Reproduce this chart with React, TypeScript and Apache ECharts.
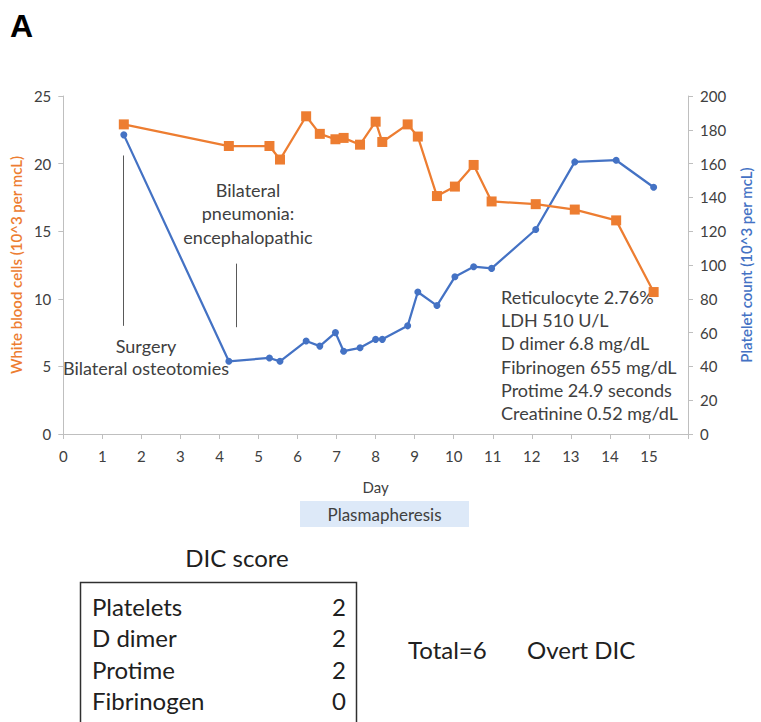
import React, { useEffect, useRef } from "react";
import * as echarts from "echarts";

const days = [1.55, 4.24, 5.28, 5.55, 6.22, 6.57, 6.97, 7.18, 7.6, 8.0, 8.17, 8.82, 9.08, 9.57, 10.03, 10.51, 10.97, 12.1, 13.1, 14.16, 15.12];
const wbc = [22.9, 21.3, 21.3, 20.3, 23.5, 22.2, 21.8, 21.9, 21.4, 23.1, 21.6, 22.9, 22.0, 17.6, 18.3, 19.9, 17.2, 17.0, 16.6, 15.8, 10.5];
const platelets = [177, 43, 45, 43, 55, 52, 60, 49, 51, 56, 56, 64, 84, 76, 93, 99, 98, 121, 161, 162, 146];

const labLines = [
  "Reticulocyte 2.76%",
  "LDH 510 U/L",
  "D dimer 6.8 mg/dL",
  "Fibrinogen 655 mg/dL",
  "Protime 24.9 seconds",
  "Creatinine 0.52 mg/dL",
];
const dicItems = ["Platelets", "D dimer", "Protime", "Fibrinogen"];
const dicScores = [2, 2, 2, 0];

const FONT = "Lato, 'Open Sans', sans-serif";
const TXT = "#404040";
const ORANGE = "#ED7D31";
const BLUE = "#4472C4";

export default function App() {
  const ref = useRef<HTMLDivElement>(null);
  useEffect(() => {
    document.body.style.margin = "0";
    const chart = echarts.init(ref.current!, null, { renderer: "svg" });
    const rowY = [606, 637.5, 669, 700];
    const graphic: any[] = [
      { type: "text", left: 10, top: 10, style: { text: "A", font: "bold 32px 'Liberation Sans', Arial, sans-serif", fill: "#000" } },
      { type: "text", x: 248, y: 213, style: { text: "Bilateral\npneumonia:\nencephalopathic", font: `18px ${FONT}`, fill: TXT, align: "center", verticalAlign: "middle", lineHeight: 23.5 } },
      { type: "text", x: 146, y: 357, style: { text: "Surgery\nBilateral osteotomies", font: `18px ${FONT}`, fill: TXT, align: "center", verticalAlign: "middle", lineHeight: 22 } },
      { type: "text", x: 501, y: 355, style: { text: labLines.join("\n"), font: `18px ${FONT}`, fill: TXT, align: "left", verticalAlign: "middle", lineHeight: 23.2 } },
      { type: "rect", shape: { x: 300, y: 501, width: 169, height: 26 }, style: { fill: "#DDE9F8" } },
      { type: "text", x: 384.5, y: 514, style: { text: "Plasmapheresis", font: `17px ${FONT}`, fill: TXT, align: "center", verticalAlign: "middle" } },
      { type: "text", x: 237, y: 557, style: { text: "DIC score", font: `24px ${FONT}`, fill: "#202020", align: "center", verticalAlign: "middle" } },
      { type: "rect", shape: { x: 80.5, y: 582.5, width: 276, height: 160 }, style: { fill: "none", stroke: "#303030", lineWidth: 1.5 } },
      { type: "text", x: 408, y: 649, style: { text: "Total=6", font: `24px ${FONT}`, fill: "#202020", align: "left", verticalAlign: "middle" } },
      { type: "text", x: 527, y: 649, style: { text: "Overt DIC", font: `24px ${FONT}`, fill: "#202020", align: "left", verticalAlign: "middle" } },
    ];
    dicItems.forEach((name, i) => {
      graphic.push({ type: "text", x: 92, y: rowY[i], style: { text: name, font: `24px ${FONT}`, fill: "#202020", align: "left", verticalAlign: "middle" } });
      graphic.push({ type: "text", x: 346, y: rowY[i], style: { text: String(dicScores[i]), font: `24px ${FONT}`, fill: "#202020", align: "right", verticalAlign: "middle" } });
    });

    const axisCommon = {
      axisLine: { show: true, lineStyle: { color: "#BFBFBF", width: 1 } },
      axisTick: { show: true, inside: false, length: 5, lineStyle: { color: "#BFBFBF" } },
      splitLine: { show: false },
    };

    chart.setOption({
      animation: false,
      backgroundColor: "#fff",
      grid: { left: 62, right: 64, top: 96, bottom: 288 },
      xAxis: {
        type: "value", min: 0, max: 16, interval: 1,
        name: "Day", nameLocation: "middle", nameGap: 45,
        nameTextStyle: { fontFamily: FONT, fontSize: 15, color: TXT },
        ...axisCommon,
        axisLabel: { fontFamily: FONT, fontSize: 15, color: "#404040", margin: 14, formatter: (v: number) => (v === 16 ? "" : String(v)) },
      },
      yAxis: [
        {
          type: "value", min: 0, max: 25, interval: 5, position: "left",
          name: "White blood cells (10^3 per mcL)", nameLocation: "middle", nameGap: 38, nameRotate: 90,
          nameTextStyle: { fontFamily: FONT, fontSize: 15, color: ORANGE, fontWeight: 600 },
          ...axisCommon,
          axisLabel: { fontFamily: FONT, fontSize: 15, color: "#404040", margin: 12 },
        },
        {
          type: "value", min: 0, max: 200, interval: 20, position: "right",
          name: "Platelet count (10^3 per mcL)", nameLocation: "middle", nameGap: 50, nameRotate: 90,
          nameTextStyle: { fontFamily: FONT, fontSize: 15, color: BLUE, fontWeight: 600 },
          ...axisCommon,
          axisLabel: { fontFamily: FONT, fontSize: 15, color: "#404040", margin: 12 },
        },
      ],
      series: [
        {
          type: "line", yAxisIndex: 0, name: "WBC",
          data: days.map((d, i) => [d, wbc[i]]),
          symbol: "rect", symbolSize: 10,
          lineStyle: { color: ORANGE, width: 2.25 }, itemStyle: { color: ORANGE },
          markLine: {
            silent: true, symbol: ["none", "none"], label: { show: false },
            lineStyle: { color: "#595959", width: 1, type: "solid" },
            data: [
              [{ coord: [1.54, 20.6] }, { coord: [1.54, 8.0] }],
              [{ coord: [4.44, 12.6] }, { coord: [4.44, 7.9] }],
            ],
          },
          z: 3,
        },
        {
          type: "line", yAxisIndex: 1, name: "Platelets",
          data: days.map((d, i) => [d, platelets[i]]),
          symbol: "circle", symbolSize: 7,
          lineStyle: { color: BLUE, width: 2.25 }, itemStyle: { color: BLUE },
          z: 2,
        },
      ],
      graphic,
    });
    return () => chart.dispose();
  }, []);
  return <div ref={ref} style={{ width: 761, height: 722 }} />;
}
